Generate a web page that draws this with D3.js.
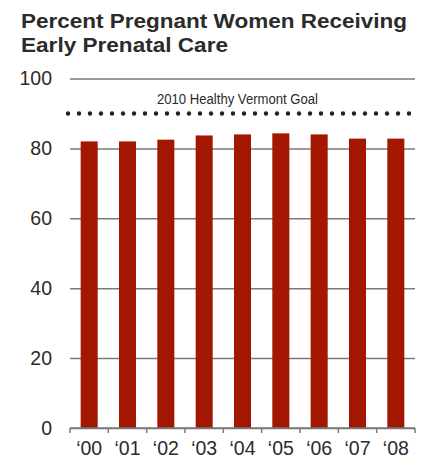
<!DOCTYPE html>
<html>
<head>
<meta charset="utf-8">
<script src="https://cdn.jsdelivr.net/npm/d3@7"></script>
<style>
  body { margin: 0; background: #fff; }
  svg { display: block; font-family: "Liberation Sans", Arial, sans-serif; }
</style>
</head>
<body>
<script>
'use strict';

// chart data
const years = ["\u201800", "\u201801", "\u201802", "\u201803", "\u201804", "\u201805", "\u201806", "\u201807", "\u201808"];
const percentValues = [82, 82, 82.5, 83.7, 84, 84.3, 84, 82.8, 82.8];
const yTicks = [0, 20, 40, 60, 80, 100];
const goalValue = 90;
const goalLabel = "2010 Healthy Vermont Goal";
const titleLines = ["Percent Pregnant Women Receiving", "Early Prenatal Care"];

(function () {

    const width = 424, height = 459;
    const plotLeft = 70, plotRight = 415, plotTop = 78.5, plotBottom = 428;
    const titleWidths = [386, 207]; // widths the title lines take in the original

    const svg = d3.select('body')
        .append('svg')
        .attr('width', width)
        .attr('height', height);

    // title
    svg.selectAll('.title')
        .data(titleLines)
        .enter()
        .append('text')
        .attr('class', 'title')
        .attr('x', 21)
        .attr('y', (d, i) => 28 + i * 24)
        .attr('fill', '#2b2b2b')
        .attr('textLength', (d, i) => titleWidths[i])
        .attr('lengthAdjust', 'spacingAndGlyphs')
        .style('font-size', '20.5px')
        .style('font-weight', 'bold')
        .text(d => d);

    // scales
    const xScale = d3.scaleBand()
        .domain(years)
        .range([plotLeft, plotRight])
        .paddingInner(0.556)
        .paddingOuter(0.278);

    const yScale = d3.scaleLinear()
        .domain([0, 100])
        .range([plotBottom, plotTop]);

    // gridlines + y labels
    const yAxis = d3.axisLeft(yScale)
        .tickValues(yTicks)
        .tickSize(-(plotRight - plotLeft))
        .tickPadding(18);

    const yG = svg.append('g')
        .attr('transform', `translate(${plotLeft}, 0)`)
        .call(yAxis);
    yG.select('.domain').remove();
    yG.selectAll('.tick line')
        .attr('stroke', '#7a7a7a')
        .attr('stroke-width', 1.5);
    yG.selectAll('.tick text')
        .attr('fill', '#2b2b2b')
        .style('font-size', '19.5px')
        .style('font-family', '"Liberation Sans", Arial, sans-serif');

    // goal dotted line
    svg.append('line')
        .attr('x1', 68)
        .attr('x2', plotRight)
        .attr('y1', yScale(goalValue))
        .attr('y2', yScale(goalValue))
        .attr('stroke', '#222')
        .attr('stroke-width', 4.4)
        .attr('stroke-linecap', 'round')
        .attr('stroke-dasharray', '0 11');

    svg.append('text')
        .attr('x', 157)
        .attr('y', 104)
        .attr('fill', '#2b2b2b')
        .attr('textLength', 161)
        .attr('lengthAdjust', 'spacingAndGlyphs')
        .style('font-size', '14px')
        .text(goalLabel);

    // bars
    svg.selectAll('.bar')
        .data(percentValues)
        .enter()
        .append('rect')
        .attr('class', 'bar')
        .attr('x', (d, i) => xScale(years[i]))
        .attr('y', d => yScale(d))
        .attr('width', xScale.bandwidth())
        .attr('height', d => yScale(0) - yScale(d))
        .attr('fill', '#a31600');

    // x axis with ticks at band edges
    const xAxis = d3.axisBottom(xScale)
        .tickSize(0);
    const xG = svg.append('g')
        .attr('transform', `translate(0, ${plotBottom})`)
        .call(xAxis);
    xG.select('.domain')
        .attr('stroke', '#7a7a7a')
        .attr('stroke-width', 1.5)
        .attr('d', `M${plotLeft},0H${plotRight}`);
    xG.selectAll('.tick text')
        .attr('y', 26.5)
        .attr('dy', 0)
        .attr('fill', '#2b2b2b')
        .style('font-size', '19.5px')
        .style('font-family', '"Liberation Sans", Arial, sans-serif');

    const edges = years.map(y => xScale(y) - xScale.step() * xScale.paddingInner() / 2);
    edges.push(plotRight);
    xG.selectAll('.edge')
        .data(edges)
        .enter()
        .append('line')
        .attr('class', 'edge')
        .attr('x1', d => d)
        .attr('x2', d => d)
        .attr('y1', 0)
        .attr('y2', 5)
        .attr('stroke', '#7a7a7a')
        .attr('stroke-width', 1.5);

})();
</script>
</body>
</html>
